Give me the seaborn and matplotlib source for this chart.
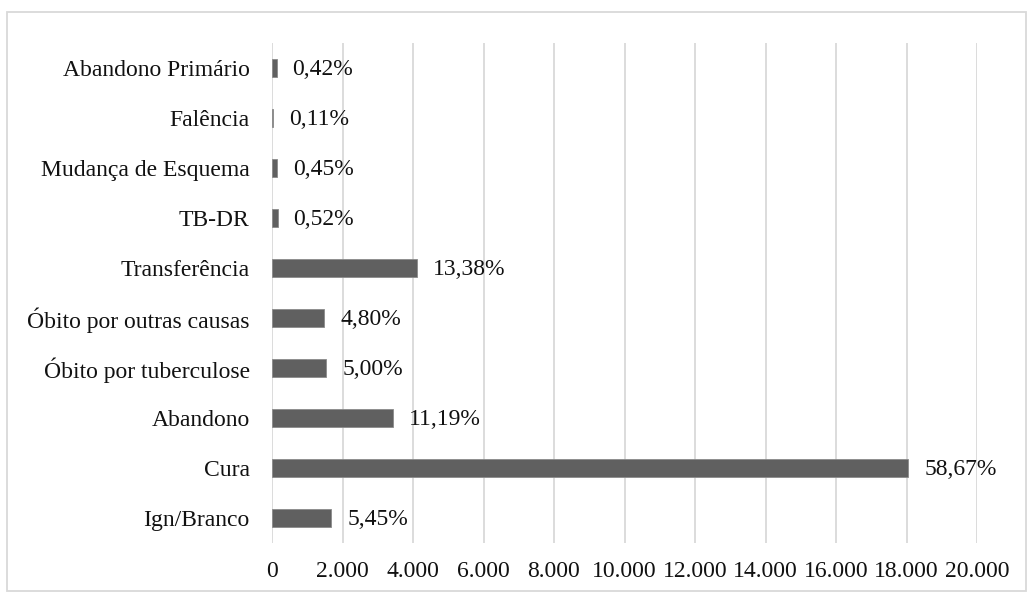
import matplotlib
matplotlib.use("Agg")
import matplotlib.pyplot as plt
from matplotlib.patches import Rectangle
from matplotlib.ticker import FuncFormatter, MultipleLocator
import seaborn as sns
import pandas as pd

# Treatment outcome categories (top to bottom) and case counts
categories = [
    "Abandono Primário",
    "Falência",
    "Mudança de Esquema",
    "TB-DR",
    "Transferência",
    "Óbito por outras causas",
    "Óbito por tuberculose",
    "Abandono",
    "Cura",
    "Ign/Branco",
]
counts = [129, 34, 138, 160, 4117, 1477, 1538, 3443, 18051, 1677]
pct_labels = ["0,42%", "0,11%", "0,45%", "0,52%", "13,38%",
              "4,80%", "5,00%", "11,19%", "58,67%", "5,45%"]

df = pd.DataFrame({"categoria": categories, "casos": counts, "pct": pct_labels})

sns.set_theme(style="white")
plt.rcParams["font.family"] = ["Liberation Serif", "DejaVu Serif"]

fig = plt.figure(figsize=(10.33, 5.92), dpi=100)
W, H = 1033, 592
ax = fig.add_axes([272 / W, 1 - 543 / H, (977 - 272) / W, (543 - 43) / H])

sns.barplot(data=df, x="casos", y="categoria", order=categories,
            color="#606060", width=0.35, saturation=1, ax=ax, orient="h",
            edgecolor="#8a8a8a", linewidth=0.6)

for p, lab in zip(ax.patches, df["pct"]):
    ax.annotate(lab, (p.get_x() + p.get_width(), p.get_y() + p.get_height() / 2),
                xytext=(11.5, -1), textcoords="offset points",
                ha="left", va="center", fontsize=17, color="#111111")

ax.set_xlim(0, 20000)
ax.xaxis.set_major_locator(MultipleLocator(2000))
ax.xaxis.set_major_formatter(FuncFormatter(lambda v, _: f"{int(v):,}".replace(",", ".")))
ax.grid(axis="x", color="#d9d9d9", linewidth=1.3)
ax.grid(axis="y", visible=False)
ax.set_axisbelow(True)
for s in ax.spines.values():
    s.set_visible(False)
ax.tick_params(axis="both", length=0, labelsize=17, labelcolor="#111111")
ax.tick_params(axis="y", pad=16)
ax.tick_params(axis="x", pad=13)
ax.set_xlabel("")
ax.set_ylabel("")

# Outer chart frame
fig.patches.append(Rectangle((7 / W, 1 / H), (1026 - 7) / W, (579) / H,
                             transform=fig.transFigure, fill=False,
                             edgecolor="#d9d9d9", linewidth=1.3))

fig.savefig("out.png", dpi=100, facecolor="white")
